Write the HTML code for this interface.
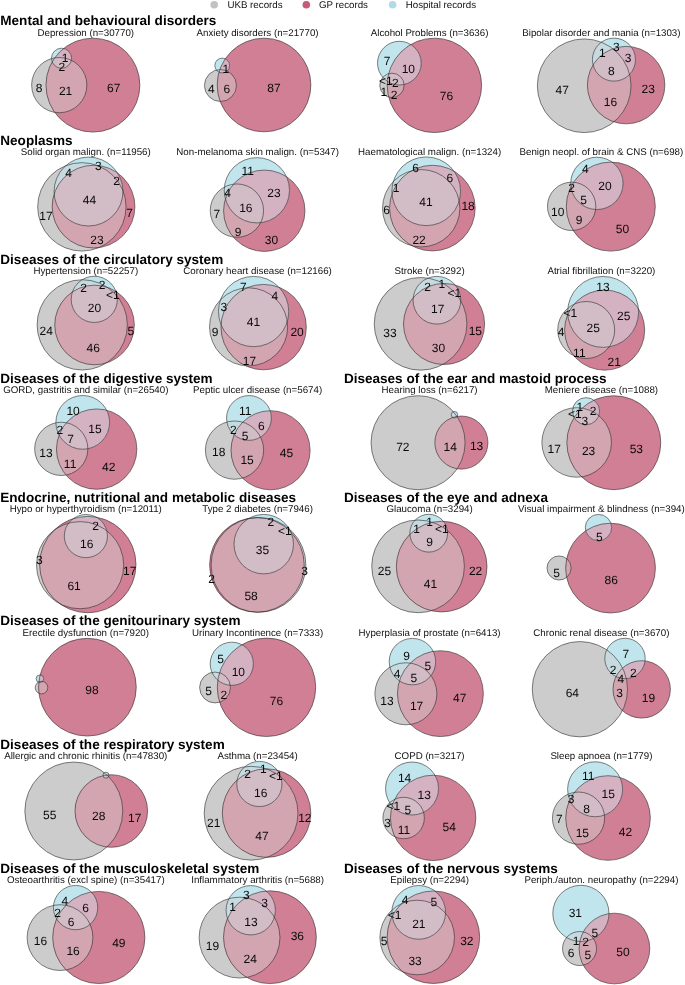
<!DOCTYPE html>
<html><head><meta charset="utf-8"><title>Venn</title>
<style>
html,body{margin:0;padding:0;background:#fff}
svg{display:block;font-family:"Liberation Sans",sans-serif;text-rendering:geometricPrecision}
.t{font-weight:bold;font-size:13.55px;fill:#000}
.s{font-size:9.74px;fill:#111;text-anchor:middle}
.l{font-size:9.74px;fill:#111}
.n{font-size:12.0px;fill:#0a0a0a;text-anchor:middle}
.o{fill:none;stroke:#2e2e2e;stroke-width:0.6}
.fG{fill:#cccccc}
.fR{fill:#d07f95}
.fB{fill:#c0e5ec}
.fGR{fill:#d3a5b0}
.fGB{fill:#c6dae0}
.fRB{fill:#d4b2c1}
.fGRB{fill:#d2bcc5}
</style></head><body>
<svg width="685" height="985" viewBox="0 0 685 985">
<rect width="685" height="985" fill="#fff"/>
<defs>
<clipPath id="cG0"><circle cx="59.26" cy="85.12" r="27.62"/></clipPath><clipPath id="cR0"><circle cx="92.91" cy="85.12" r="46.95"/></clipPath><clipPath id="cB0"><circle cx="61.52" cy="58.25" r="10.04"/></clipPath>
<clipPath id="cG1"><circle cx="220.46" cy="85.5" r="16.01"/></clipPath><clipPath id="cR1"><circle cx="264.03" cy="85" r="46.83"/></clipPath><clipPath id="cB1"><circle cx="222.22" cy="65.54" r="7.41"/></clipPath>
<clipPath id="cG2"><circle cx="391.96" cy="85.37" r="12.18"/></clipPath><clipPath id="cR2"><circle cx="434.39" cy="85.37" r="47.21"/></clipPath><clipPath id="cB2"><circle cx="399.37" cy="63.15" r="21.85"/></clipPath>
<clipPath id="cG3"><circle cx="584.19" cy="85.75" r="46.83"/></clipPath><clipPath id="cR3"><circle cx="626.12" cy="85.12" r="38.73"/></clipPath><clipPath id="cB3"><circle cx="613.94" cy="59.64" r="21.53"/></clipPath>
<clipPath id="cG4"><circle cx="81.86" cy="206.86" r="44.19"/></clipPath><clipPath id="cR4"><circle cx="93.53" cy="206.61" r="41.37"/></clipPath><clipPath id="cB4"><circle cx="88.51" cy="191.54" r="34.46"/></clipPath>
<clipPath id="cG5"><circle cx="236.91" cy="210.62" r="26.68"/></clipPath><clipPath id="cR5"><circle cx="264.28" cy="210.75" r="40.68"/></clipPath><clipPath id="cB5"><circle cx="256.87" cy="190.28" r="32.64"/></clipPath>
<clipPath id="cG6"><circle cx="421.21" cy="208.24" r="38.67"/></clipPath><clipPath id="cR6"><circle cx="432.39" cy="208.11" r="42.81"/></clipPath><clipPath id="cB6"><circle cx="426.23" cy="191.29" r="34.34"/></clipPath>
<clipPath id="cG7"><circle cx="571.63" cy="206.35" r="24.17"/></clipPath><clipPath id="cR7"><circle cx="610.8" cy="206.61" r="44.51"/></clipPath><clipPath id="cB7"><circle cx="596.87" cy="183.38" r="26.18"/></clipPath>
<clipPath id="cG8"><circle cx="82.23" cy="324.85" r="45.13"/></clipPath><clipPath id="cR8"><circle cx="94.54" cy="324.97" r="39.8"/></clipPath><clipPath id="cB8"><circle cx="94.29" cy="299.36" r="23.1"/></clipPath>
<clipPath id="cG9"><circle cx="248.58" cy="326.86" r="39.05"/></clipPath><clipPath id="cR9"><circle cx="263.65" cy="327.11" r="42.69"/></clipPath><clipPath id="cB9"><circle cx="253.61" cy="311.54" r="35.15"/></clipPath>
<clipPath id="cG10"><circle cx="420.58" cy="323.84" r="46.33"/></clipPath><clipPath id="cR10"><circle cx="444.06" cy="323.97" r="40.55"/></clipPath><clipPath id="cB10"><circle cx="436.91" cy="300.24" r="23.85"/></clipPath>
<clipPath id="cG11"><circle cx="586.19" cy="330" r="28.5"/></clipPath><clipPath id="cR11"><circle cx="604.65" cy="330.12" r="40.05"/></clipPath><clipPath id="cB11"><circle cx="603.14" cy="311.92" r="35.47"/></clipPath>
<clipPath id="cG12"><circle cx="61.27" cy="448.87" r="26.62"/></clipPath><clipPath id="cR12"><circle cx="96.67" cy="449.12" r="40.18"/></clipPath><clipPath id="cB12"><circle cx="82.74" cy="422.38" r="26.87"/></clipPath>
<clipPath id="cG13"><circle cx="234.52" cy="450.12" r="29.13"/></clipPath><clipPath id="cR13"><circle cx="270.55" cy="450.25" r="39.55"/></clipPath><clipPath id="cB13"><circle cx="248.96" cy="417.98" r="22.41"/></clipPath>
<clipPath id="cG14"><circle cx="418.07" cy="442.71" r="47.02"/></clipPath><clipPath id="cR14"><circle cx="461.39" cy="442.59" r="26.55"/></clipPath><clipPath id="cB14"><circle cx="454.48" cy="414.72" r="3.26"/></clipPath>
<clipPath id="cG15"><circle cx="576.65" cy="442.46" r="34.78"/></clipPath><clipPath id="cR15"><circle cx="613.81" cy="442.71" r="46.95"/></clipPath><clipPath id="cB15"><circle cx="586.07" cy="411.2" r="13.56"/></clipPath>
<clipPath id="cG16"><circle cx="80.1" cy="565.18" r="43.58"/></clipPath><clipPath id="cR16"><circle cx="87.81" cy="564.56" r="48.18"/></clipPath><clipPath id="cB16"><circle cx="85.88" cy="536.09" r="21.59"/></clipPath>
<clipPath id="cG17"><circle cx="258.49" cy="564.91" r="47.39"/></clipPath><clipPath id="cR17"><circle cx="256.91" cy="564.91" r="47.3"/></clipPath><clipPath id="cB17"><circle cx="263.74" cy="544.15" r="29.74"/></clipPath>
<clipPath id="cG18"><circle cx="418.07" cy="566.35" r="46.33"/></clipPath><clipPath id="cR18"><circle cx="441.68" cy="566.61" r="45.32"/></clipPath><clipPath id="cB18"><circle cx="428.74" cy="533.21" r="18.89"/></clipPath>
<clipPath id="cG19"><circle cx="559.08" cy="567.99" r="12.05"/></clipPath><clipPath id="cR19"><circle cx="610.55" cy="568.11" r="44.88"/></clipPath><clipPath id="cB19"><circle cx="598.5" cy="527.56" r="13.18"/></clipPath>
<clipPath id="cG20"><circle cx="41.5" cy="687.6" r="6.3"/></clipPath><clipPath id="cR20"><circle cx="87.4" cy="687.2" r="48.85"/></clipPath><clipPath id="cB20"><circle cx="39.95" cy="678.7" r="3.8"/></clipPath>
<clipPath id="cG21"><circle cx="215.06" cy="687.48" r="15.44"/></clipPath><clipPath id="cR21"><circle cx="266.5" cy="687.3" r="49.2"/></clipPath><clipPath id="cB21"><circle cx="231.76" cy="663.76" r="21.59"/></clipPath>
<clipPath id="cG22"><circle cx="405.89" cy="693.76" r="31.01"/></clipPath><clipPath id="cR22"><circle cx="440.42" cy="693.64" r="42.94"/></clipPath><clipPath id="cB22"><circle cx="412.42" cy="661.62" r="23.23"/></clipPath>
<clipPath id="cG23"><circle cx="579.9" cy="689.2" r="47.65"/></clipPath><clipPath id="cR23"><circle cx="641.69" cy="689.37" r="28.69"/></clipPath><clipPath id="cB23"><circle cx="624.99" cy="658.48" r="20.21"/></clipPath>
<clipPath id="cG24"><circle cx="73.8" cy="811" r="48.95"/></clipPath><clipPath id="cR24"><circle cx="111.3" cy="811" r="36.3"/></clipPath><clipPath id="cB24"><circle cx="105.96" cy="775.2" r="3.01"/></clipPath>
<clipPath id="cG25"><circle cx="251.09" cy="813.24" r="46.89"/></clipPath><clipPath id="cR25"><circle cx="266.54" cy="813.11" r="44.26"/></clipPath><clipPath id="cB25"><circle cx="259.38" cy="783.99" r="22.6"/></clipPath>
<clipPath id="cG26"><circle cx="403.64" cy="818.01" r="20.72"/></clipPath><clipPath id="cR26"><circle cx="433.14" cy="817.88" r="42.69"/></clipPath><clipPath id="cB26"><circle cx="412.05" cy="788.51" r="26.49"/></clipPath>
<clipPath id="cG27"><circle cx="578.54" cy="818.13" r="26.11"/></clipPath><clipPath id="cR27"><circle cx="608.04" cy="818.01" r="42.31"/></clipPath><clipPath id="cB27"><circle cx="595.11" cy="789.26" r="27.49"/></clipPath>
<clipPath id="cG28"><circle cx="60.01" cy="937.61" r="32.89"/></clipPath><clipPath id="cR28"><circle cx="98.81" cy="937.48" r="46.08"/></clipPath><clipPath id="cB28"><circle cx="75.58" cy="907.6" r="22.16"/></clipPath>
<clipPath id="cG29"><circle cx="239.54" cy="937.61" r="40.43"/></clipPath><clipPath id="cR29"><circle cx="269.93" cy="937.23" r="46.39"/></clipPath><clipPath id="cB29"><circle cx="250.72" cy="910.24" r="24.67"/></clipPath>
<clipPath id="cG30"><circle cx="417.19" cy="937.48" r="37.29"/></clipPath><clipPath id="cR30"><circle cx="433.39" cy="937.23" r="46.26"/></clipPath><clipPath id="cB30"><circle cx="418.7" cy="912.38" r="26.87"/></clipPath>
<clipPath id="cG31"><circle cx="579.54" cy="948.53" r="17.01"/></clipPath><clipPath id="cR31"><circle cx="614.44" cy="948.53" r="35.34"/></clipPath><clipPath id="cB31"><circle cx="580.9" cy="913.4" r="28.1"/></clipPath>
</defs>
<g>
<circle cx="59.26" cy="85.12" r="27.62" class="fG"/>
<circle cx="92.91" cy="85.12" r="46.95" class="fR"/>
<circle cx="61.52" cy="58.25" r="10.04" class="fB"/>
<circle cx="59.26" cy="85.12" r="27.62" class="fGR" clip-path="url(#cR0)"/>
<circle cx="59.26" cy="85.12" r="27.62" class="fGB" clip-path="url(#cB0)"/>
<circle cx="92.91" cy="85.12" r="46.95" class="fRB" clip-path="url(#cB0)"/>
<g clip-path="url(#cB0)"><circle cx="59.26" cy="85.12" r="27.62" class="fGRB" clip-path="url(#cR0)"/></g>
<circle cx="59.26" cy="85.12" r="27.62" class="o"/>
<circle cx="92.91" cy="85.12" r="46.95" class="o"/>
<circle cx="61.52" cy="58.25" r="10.04" class="o"/>
</g>
<g>
<circle cx="220.46" cy="85.5" r="16.01" class="fG"/>
<circle cx="264.03" cy="85" r="46.83" class="fR"/>
<circle cx="222.22" cy="65.54" r="7.41" class="fB"/>
<circle cx="220.46" cy="85.5" r="16.01" class="fGR" clip-path="url(#cR1)"/>
<circle cx="220.46" cy="85.5" r="16.01" class="fGB" clip-path="url(#cB1)"/>
<circle cx="264.03" cy="85" r="46.83" class="fRB" clip-path="url(#cB1)"/>
<g clip-path="url(#cB1)"><circle cx="220.46" cy="85.5" r="16.01" class="fGRB" clip-path="url(#cR1)"/></g>
<circle cx="220.46" cy="85.5" r="16.01" class="o"/>
<circle cx="264.03" cy="85" r="46.83" class="o"/>
<circle cx="222.22" cy="65.54" r="7.41" class="o"/>
</g>
<g>
<circle cx="391.96" cy="85.37" r="12.18" class="fG"/>
<circle cx="434.39" cy="85.37" r="47.21" class="fR"/>
<circle cx="399.37" cy="63.15" r="21.85" class="fB"/>
<circle cx="391.96" cy="85.37" r="12.18" class="fGR" clip-path="url(#cR2)"/>
<circle cx="391.96" cy="85.37" r="12.18" class="fGB" clip-path="url(#cB2)"/>
<circle cx="434.39" cy="85.37" r="47.21" class="fRB" clip-path="url(#cB2)"/>
<g clip-path="url(#cB2)"><circle cx="391.96" cy="85.37" r="12.18" class="fGRB" clip-path="url(#cR2)"/></g>
<circle cx="391.96" cy="85.37" r="12.18" class="o"/>
<circle cx="434.39" cy="85.37" r="47.21" class="o"/>
<circle cx="399.37" cy="63.15" r="21.85" class="o"/>
</g>
<g>
<circle cx="584.19" cy="85.75" r="46.83" class="fG"/>
<circle cx="626.12" cy="85.12" r="38.73" class="fR"/>
<circle cx="613.94" cy="59.64" r="21.53" class="fB"/>
<circle cx="584.19" cy="85.75" r="46.83" class="fGR" clip-path="url(#cR3)"/>
<circle cx="584.19" cy="85.75" r="46.83" class="fGB" clip-path="url(#cB3)"/>
<circle cx="626.12" cy="85.12" r="38.73" class="fRB" clip-path="url(#cB3)"/>
<g clip-path="url(#cB3)"><circle cx="584.19" cy="85.75" r="46.83" class="fGRB" clip-path="url(#cR3)"/></g>
<circle cx="584.19" cy="85.75" r="46.83" class="o"/>
<circle cx="626.12" cy="85.12" r="38.73" class="o"/>
<circle cx="613.94" cy="59.64" r="21.53" class="o"/>
</g>
<g>
<circle cx="81.86" cy="206.86" r="44.19" class="fG"/>
<circle cx="93.53" cy="206.61" r="41.37" class="fR"/>
<circle cx="88.51" cy="191.54" r="34.46" class="fB"/>
<circle cx="81.86" cy="206.86" r="44.19" class="fGR" clip-path="url(#cR4)"/>
<circle cx="81.86" cy="206.86" r="44.19" class="fGB" clip-path="url(#cB4)"/>
<circle cx="93.53" cy="206.61" r="41.37" class="fRB" clip-path="url(#cB4)"/>
<g clip-path="url(#cB4)"><circle cx="81.86" cy="206.86" r="44.19" class="fGRB" clip-path="url(#cR4)"/></g>
<circle cx="81.86" cy="206.86" r="44.19" class="o"/>
<circle cx="93.53" cy="206.61" r="41.37" class="o"/>
<circle cx="88.51" cy="191.54" r="34.46" class="o"/>
</g>
<g>
<circle cx="236.91" cy="210.62" r="26.68" class="fG"/>
<circle cx="264.28" cy="210.75" r="40.68" class="fR"/>
<circle cx="256.87" cy="190.28" r="32.64" class="fB"/>
<circle cx="236.91" cy="210.62" r="26.68" class="fGR" clip-path="url(#cR5)"/>
<circle cx="236.91" cy="210.62" r="26.68" class="fGB" clip-path="url(#cB5)"/>
<circle cx="264.28" cy="210.75" r="40.68" class="fRB" clip-path="url(#cB5)"/>
<g clip-path="url(#cB5)"><circle cx="236.91" cy="210.62" r="26.68" class="fGRB" clip-path="url(#cR5)"/></g>
<circle cx="236.91" cy="210.62" r="26.68" class="o"/>
<circle cx="264.28" cy="210.75" r="40.68" class="o"/>
<circle cx="256.87" cy="190.28" r="32.64" class="o"/>
</g>
<g>
<circle cx="421.21" cy="208.24" r="38.67" class="fG"/>
<circle cx="432.39" cy="208.11" r="42.81" class="fR"/>
<circle cx="426.23" cy="191.29" r="34.34" class="fB"/>
<circle cx="421.21" cy="208.24" r="38.67" class="fGR" clip-path="url(#cR6)"/>
<circle cx="421.21" cy="208.24" r="38.67" class="fGB" clip-path="url(#cB6)"/>
<circle cx="432.39" cy="208.11" r="42.81" class="fRB" clip-path="url(#cB6)"/>
<g clip-path="url(#cB6)"><circle cx="421.21" cy="208.24" r="38.67" class="fGRB" clip-path="url(#cR6)"/></g>
<circle cx="421.21" cy="208.24" r="38.67" class="o"/>
<circle cx="432.39" cy="208.11" r="42.81" class="o"/>
<circle cx="426.23" cy="191.29" r="34.34" class="o"/>
</g>
<g>
<circle cx="571.63" cy="206.35" r="24.17" class="fG"/>
<circle cx="610.8" cy="206.61" r="44.51" class="fR"/>
<circle cx="596.87" cy="183.38" r="26.18" class="fB"/>
<circle cx="571.63" cy="206.35" r="24.17" class="fGR" clip-path="url(#cR7)"/>
<circle cx="571.63" cy="206.35" r="24.17" class="fGB" clip-path="url(#cB7)"/>
<circle cx="610.8" cy="206.61" r="44.51" class="fRB" clip-path="url(#cB7)"/>
<g clip-path="url(#cB7)"><circle cx="571.63" cy="206.35" r="24.17" class="fGRB" clip-path="url(#cR7)"/></g>
<circle cx="571.63" cy="206.35" r="24.17" class="o"/>
<circle cx="610.8" cy="206.61" r="44.51" class="o"/>
<circle cx="596.87" cy="183.38" r="26.18" class="o"/>
</g>
<g>
<circle cx="82.23" cy="324.85" r="45.13" class="fG"/>
<circle cx="94.54" cy="324.97" r="39.8" class="fR"/>
<circle cx="94.29" cy="299.36" r="23.1" class="fB"/>
<circle cx="82.23" cy="324.85" r="45.13" class="fGR" clip-path="url(#cR8)"/>
<circle cx="82.23" cy="324.85" r="45.13" class="fGB" clip-path="url(#cB8)"/>
<circle cx="94.54" cy="324.97" r="39.8" class="fRB" clip-path="url(#cB8)"/>
<g clip-path="url(#cB8)"><circle cx="82.23" cy="324.85" r="45.13" class="fGRB" clip-path="url(#cR8)"/></g>
<circle cx="82.23" cy="324.85" r="45.13" class="o"/>
<circle cx="94.54" cy="324.97" r="39.8" class="o"/>
<circle cx="94.29" cy="299.36" r="23.1" class="o"/>
</g>
<g>
<circle cx="248.58" cy="326.86" r="39.05" class="fG"/>
<circle cx="263.65" cy="327.11" r="42.69" class="fR"/>
<circle cx="253.61" cy="311.54" r="35.15" class="fB"/>
<circle cx="248.58" cy="326.86" r="39.05" class="fGR" clip-path="url(#cR9)"/>
<circle cx="248.58" cy="326.86" r="39.05" class="fGB" clip-path="url(#cB9)"/>
<circle cx="263.65" cy="327.11" r="42.69" class="fRB" clip-path="url(#cB9)"/>
<g clip-path="url(#cB9)"><circle cx="248.58" cy="326.86" r="39.05" class="fGRB" clip-path="url(#cR9)"/></g>
<circle cx="248.58" cy="326.86" r="39.05" class="o"/>
<circle cx="263.65" cy="327.11" r="42.69" class="o"/>
<circle cx="253.61" cy="311.54" r="35.15" class="o"/>
</g>
<g>
<circle cx="420.58" cy="323.84" r="46.33" class="fG"/>
<circle cx="444.06" cy="323.97" r="40.55" class="fR"/>
<circle cx="436.91" cy="300.24" r="23.85" class="fB"/>
<circle cx="420.58" cy="323.84" r="46.33" class="fGR" clip-path="url(#cR10)"/>
<circle cx="420.58" cy="323.84" r="46.33" class="fGB" clip-path="url(#cB10)"/>
<circle cx="444.06" cy="323.97" r="40.55" class="fRB" clip-path="url(#cB10)"/>
<g clip-path="url(#cB10)"><circle cx="420.58" cy="323.84" r="46.33" class="fGRB" clip-path="url(#cR10)"/></g>
<circle cx="420.58" cy="323.84" r="46.33" class="o"/>
<circle cx="444.06" cy="323.97" r="40.55" class="o"/>
<circle cx="436.91" cy="300.24" r="23.85" class="o"/>
</g>
<g>
<circle cx="586.19" cy="330" r="28.5" class="fG"/>
<circle cx="604.65" cy="330.12" r="40.05" class="fR"/>
<circle cx="603.14" cy="311.92" r="35.47" class="fB"/>
<circle cx="586.19" cy="330" r="28.5" class="fGR" clip-path="url(#cR11)"/>
<circle cx="586.19" cy="330" r="28.5" class="fGB" clip-path="url(#cB11)"/>
<circle cx="604.65" cy="330.12" r="40.05" class="fRB" clip-path="url(#cB11)"/>
<g clip-path="url(#cB11)"><circle cx="586.19" cy="330" r="28.5" class="fGRB" clip-path="url(#cR11)"/></g>
<circle cx="586.19" cy="330" r="28.5" class="o"/>
<circle cx="604.65" cy="330.12" r="40.05" class="o"/>
<circle cx="603.14" cy="311.92" r="35.47" class="o"/>
</g>
<g>
<circle cx="61.27" cy="448.87" r="26.62" class="fG"/>
<circle cx="96.67" cy="449.12" r="40.18" class="fR"/>
<circle cx="82.74" cy="422.38" r="26.87" class="fB"/>
<circle cx="61.27" cy="448.87" r="26.62" class="fGR" clip-path="url(#cR12)"/>
<circle cx="61.27" cy="448.87" r="26.62" class="fGB" clip-path="url(#cB12)"/>
<circle cx="96.67" cy="449.12" r="40.18" class="fRB" clip-path="url(#cB12)"/>
<g clip-path="url(#cB12)"><circle cx="61.27" cy="448.87" r="26.62" class="fGRB" clip-path="url(#cR12)"/></g>
<circle cx="61.27" cy="448.87" r="26.62" class="o"/>
<circle cx="96.67" cy="449.12" r="40.18" class="o"/>
<circle cx="82.74" cy="422.38" r="26.87" class="o"/>
</g>
<g>
<circle cx="234.52" cy="450.12" r="29.13" class="fG"/>
<circle cx="270.55" cy="450.25" r="39.55" class="fR"/>
<circle cx="248.96" cy="417.98" r="22.41" class="fB"/>
<circle cx="234.52" cy="450.12" r="29.13" class="fGR" clip-path="url(#cR13)"/>
<circle cx="234.52" cy="450.12" r="29.13" class="fGB" clip-path="url(#cB13)"/>
<circle cx="270.55" cy="450.25" r="39.55" class="fRB" clip-path="url(#cB13)"/>
<g clip-path="url(#cB13)"><circle cx="234.52" cy="450.12" r="29.13" class="fGRB" clip-path="url(#cR13)"/></g>
<circle cx="234.52" cy="450.12" r="29.13" class="o"/>
<circle cx="270.55" cy="450.25" r="39.55" class="o"/>
<circle cx="248.96" cy="417.98" r="22.41" class="o"/>
</g>
<g>
<circle cx="418.07" cy="442.71" r="47.02" class="fG"/>
<circle cx="461.39" cy="442.59" r="26.55" class="fR"/>
<circle cx="454.48" cy="414.72" r="3.26" class="fB"/>
<circle cx="418.07" cy="442.71" r="47.02" class="fGR" clip-path="url(#cR14)"/>
<circle cx="418.07" cy="442.71" r="47.02" class="fGB" clip-path="url(#cB14)"/>
<circle cx="461.39" cy="442.59" r="26.55" class="fRB" clip-path="url(#cB14)"/>
<g clip-path="url(#cB14)"><circle cx="418.07" cy="442.71" r="47.02" class="fGRB" clip-path="url(#cR14)"/></g>
<circle cx="418.07" cy="442.71" r="47.02" class="o"/>
<circle cx="461.39" cy="442.59" r="26.55" class="o"/>
<circle cx="454.48" cy="414.72" r="3.26" class="o"/>
</g>
<g>
<circle cx="576.65" cy="442.46" r="34.78" class="fG"/>
<circle cx="613.81" cy="442.71" r="46.95" class="fR"/>
<circle cx="586.07" cy="411.2" r="13.56" class="fB"/>
<circle cx="576.65" cy="442.46" r="34.78" class="fGR" clip-path="url(#cR15)"/>
<circle cx="576.65" cy="442.46" r="34.78" class="fGB" clip-path="url(#cB15)"/>
<circle cx="613.81" cy="442.71" r="46.95" class="fRB" clip-path="url(#cB15)"/>
<g clip-path="url(#cB15)"><circle cx="576.65" cy="442.46" r="34.78" class="fGRB" clip-path="url(#cR15)"/></g>
<circle cx="576.65" cy="442.46" r="34.78" class="o"/>
<circle cx="613.81" cy="442.71" r="46.95" class="o"/>
<circle cx="586.07" cy="411.2" r="13.56" class="o"/>
</g>
<g>
<circle cx="80.1" cy="565.18" r="43.58" class="fG"/>
<circle cx="87.81" cy="564.56" r="48.18" class="fR"/>
<circle cx="85.88" cy="536.09" r="21.59" class="fB"/>
<circle cx="80.1" cy="565.18" r="43.58" class="fGR" clip-path="url(#cR16)"/>
<circle cx="80.1" cy="565.18" r="43.58" class="fGB" clip-path="url(#cB16)"/>
<circle cx="87.81" cy="564.56" r="48.18" class="fRB" clip-path="url(#cB16)"/>
<g clip-path="url(#cB16)"><circle cx="80.1" cy="565.18" r="43.58" class="fGRB" clip-path="url(#cR16)"/></g>
<circle cx="80.1" cy="565.18" r="43.58" class="o"/>
<circle cx="87.81" cy="564.56" r="48.18" class="o"/>
<circle cx="85.88" cy="536.09" r="21.59" class="o"/>
</g>
<g>
<circle cx="258.49" cy="564.91" r="47.39" class="fG"/>
<circle cx="256.91" cy="564.91" r="47.3" class="fR"/>
<circle cx="263.74" cy="544.15" r="29.74" class="fB"/>
<circle cx="258.49" cy="564.91" r="47.39" class="fGR" clip-path="url(#cR17)"/>
<circle cx="258.49" cy="564.91" r="47.39" class="fGB" clip-path="url(#cB17)"/>
<circle cx="256.91" cy="564.91" r="47.3" class="fRB" clip-path="url(#cB17)"/>
<g clip-path="url(#cB17)"><circle cx="258.49" cy="564.91" r="47.39" class="fGRB" clip-path="url(#cR17)"/></g>
<circle cx="258.49" cy="564.91" r="47.39" class="o"/>
<circle cx="256.91" cy="564.91" r="47.3" class="o"/>
<circle cx="263.74" cy="544.15" r="29.74" class="o"/>
</g>
<g>
<circle cx="418.07" cy="566.35" r="46.33" class="fG"/>
<circle cx="441.68" cy="566.61" r="45.32" class="fR"/>
<circle cx="428.74" cy="533.21" r="18.89" class="fB"/>
<circle cx="418.07" cy="566.35" r="46.33" class="fGR" clip-path="url(#cR18)"/>
<circle cx="418.07" cy="566.35" r="46.33" class="fGB" clip-path="url(#cB18)"/>
<circle cx="441.68" cy="566.61" r="45.32" class="fRB" clip-path="url(#cB18)"/>
<g clip-path="url(#cB18)"><circle cx="418.07" cy="566.35" r="46.33" class="fGRB" clip-path="url(#cR18)"/></g>
<circle cx="418.07" cy="566.35" r="46.33" class="o"/>
<circle cx="441.68" cy="566.61" r="45.32" class="o"/>
<circle cx="428.74" cy="533.21" r="18.89" class="o"/>
</g>
<g>
<circle cx="559.08" cy="567.99" r="12.05" class="fG"/>
<circle cx="610.55" cy="568.11" r="44.88" class="fR"/>
<circle cx="598.5" cy="527.56" r="13.18" class="fB"/>
<circle cx="559.08" cy="567.99" r="12.05" class="fGR" clip-path="url(#cR19)"/>
<circle cx="559.08" cy="567.99" r="12.05" class="fGB" clip-path="url(#cB19)"/>
<circle cx="610.55" cy="568.11" r="44.88" class="fRB" clip-path="url(#cB19)"/>
<g clip-path="url(#cB19)"><circle cx="559.08" cy="567.99" r="12.05" class="fGRB" clip-path="url(#cR19)"/></g>
<circle cx="559.08" cy="567.99" r="12.05" class="o"/>
<circle cx="610.55" cy="568.11" r="44.88" class="o"/>
<circle cx="598.5" cy="527.56" r="13.18" class="o"/>
</g>
<g>
<circle cx="41.5" cy="687.6" r="6.3" class="fG"/>
<circle cx="87.4" cy="687.2" r="48.85" class="fR"/>
<circle cx="39.95" cy="678.7" r="3.8" class="fB"/>
<circle cx="41.5" cy="687.6" r="6.3" class="fGR" clip-path="url(#cR20)"/>
<circle cx="41.5" cy="687.6" r="6.3" class="fGB" clip-path="url(#cB20)"/>
<circle cx="87.4" cy="687.2" r="48.85" class="fRB" clip-path="url(#cB20)"/>
<g clip-path="url(#cB20)"><circle cx="41.5" cy="687.6" r="6.3" class="fGRB" clip-path="url(#cR20)"/></g>
<circle cx="41.5" cy="687.6" r="6.3" class="o"/>
<circle cx="87.4" cy="687.2" r="48.85" class="o"/>
<circle cx="39.95" cy="678.7" r="3.8" class="o"/>
</g>
<g>
<circle cx="215.06" cy="687.48" r="15.44" class="fG"/>
<circle cx="266.5" cy="687.3" r="49.2" class="fR"/>
<circle cx="231.76" cy="663.76" r="21.59" class="fB"/>
<circle cx="215.06" cy="687.48" r="15.44" class="fGR" clip-path="url(#cR21)"/>
<circle cx="215.06" cy="687.48" r="15.44" class="fGB" clip-path="url(#cB21)"/>
<circle cx="266.5" cy="687.3" r="49.2" class="fRB" clip-path="url(#cB21)"/>
<g clip-path="url(#cB21)"><circle cx="215.06" cy="687.48" r="15.44" class="fGRB" clip-path="url(#cR21)"/></g>
<circle cx="215.06" cy="687.48" r="15.44" class="o"/>
<circle cx="266.5" cy="687.3" r="49.2" class="o"/>
<circle cx="231.76" cy="663.76" r="21.59" class="o"/>
</g>
<g>
<circle cx="405.89" cy="693.76" r="31.01" class="fG"/>
<circle cx="440.42" cy="693.64" r="42.94" class="fR"/>
<circle cx="412.42" cy="661.62" r="23.23" class="fB"/>
<circle cx="405.89" cy="693.76" r="31.01" class="fGR" clip-path="url(#cR22)"/>
<circle cx="405.89" cy="693.76" r="31.01" class="fGB" clip-path="url(#cB22)"/>
<circle cx="440.42" cy="693.64" r="42.94" class="fRB" clip-path="url(#cB22)"/>
<g clip-path="url(#cB22)"><circle cx="405.89" cy="693.76" r="31.01" class="fGRB" clip-path="url(#cR22)"/></g>
<circle cx="405.89" cy="693.76" r="31.01" class="o"/>
<circle cx="440.42" cy="693.64" r="42.94" class="o"/>
<circle cx="412.42" cy="661.62" r="23.23" class="o"/>
</g>
<g>
<circle cx="579.9" cy="689.2" r="47.65" class="fG"/>
<circle cx="641.69" cy="689.37" r="28.69" class="fR"/>
<circle cx="624.99" cy="658.48" r="20.21" class="fB"/>
<circle cx="579.9" cy="689.2" r="47.65" class="fGR" clip-path="url(#cR23)"/>
<circle cx="579.9" cy="689.2" r="47.65" class="fGB" clip-path="url(#cB23)"/>
<circle cx="641.69" cy="689.37" r="28.69" class="fRB" clip-path="url(#cB23)"/>
<g clip-path="url(#cB23)"><circle cx="579.9" cy="689.2" r="47.65" class="fGRB" clip-path="url(#cR23)"/></g>
<circle cx="579.9" cy="689.2" r="47.65" class="o"/>
<circle cx="641.69" cy="689.37" r="28.69" class="o"/>
<circle cx="624.99" cy="658.48" r="20.21" class="o"/>
</g>
<g>
<circle cx="73.8" cy="811" r="48.95" class="fG"/>
<circle cx="111.3" cy="811" r="36.3" class="fR"/>
<circle cx="105.96" cy="775.2" r="3.01" class="fB"/>
<circle cx="73.8" cy="811" r="48.95" class="fGR" clip-path="url(#cR24)"/>
<circle cx="73.8" cy="811" r="48.95" class="fGB" clip-path="url(#cB24)"/>
<circle cx="111.3" cy="811" r="36.3" class="fRB" clip-path="url(#cB24)"/>
<g clip-path="url(#cB24)"><circle cx="73.8" cy="811" r="48.95" class="fGRB" clip-path="url(#cR24)"/></g>
<circle cx="73.8" cy="811" r="48.95" class="o"/>
<circle cx="111.3" cy="811" r="36.3" class="o"/>
<circle cx="105.96" cy="775.2" r="3.01" class="o"/>
</g>
<g>
<circle cx="251.09" cy="813.24" r="46.89" class="fG"/>
<circle cx="266.54" cy="813.11" r="44.26" class="fR"/>
<circle cx="259.38" cy="783.99" r="22.6" class="fB"/>
<circle cx="251.09" cy="813.24" r="46.89" class="fGR" clip-path="url(#cR25)"/>
<circle cx="251.09" cy="813.24" r="46.89" class="fGB" clip-path="url(#cB25)"/>
<circle cx="266.54" cy="813.11" r="44.26" class="fRB" clip-path="url(#cB25)"/>
<g clip-path="url(#cB25)"><circle cx="251.09" cy="813.24" r="46.89" class="fGRB" clip-path="url(#cR25)"/></g>
<circle cx="251.09" cy="813.24" r="46.89" class="o"/>
<circle cx="266.54" cy="813.11" r="44.26" class="o"/>
<circle cx="259.38" cy="783.99" r="22.6" class="o"/>
</g>
<g>
<circle cx="403.64" cy="818.01" r="20.72" class="fG"/>
<circle cx="433.14" cy="817.88" r="42.69" class="fR"/>
<circle cx="412.05" cy="788.51" r="26.49" class="fB"/>
<circle cx="403.64" cy="818.01" r="20.72" class="fGR" clip-path="url(#cR26)"/>
<circle cx="403.64" cy="818.01" r="20.72" class="fGB" clip-path="url(#cB26)"/>
<circle cx="433.14" cy="817.88" r="42.69" class="fRB" clip-path="url(#cB26)"/>
<g clip-path="url(#cB26)"><circle cx="403.64" cy="818.01" r="20.72" class="fGRB" clip-path="url(#cR26)"/></g>
<circle cx="403.64" cy="818.01" r="20.72" class="o"/>
<circle cx="433.14" cy="817.88" r="42.69" class="o"/>
<circle cx="412.05" cy="788.51" r="26.49" class="o"/>
</g>
<g>
<circle cx="578.54" cy="818.13" r="26.11" class="fG"/>
<circle cx="608.04" cy="818.01" r="42.31" class="fR"/>
<circle cx="595.11" cy="789.26" r="27.49" class="fB"/>
<circle cx="578.54" cy="818.13" r="26.11" class="fGR" clip-path="url(#cR27)"/>
<circle cx="578.54" cy="818.13" r="26.11" class="fGB" clip-path="url(#cB27)"/>
<circle cx="608.04" cy="818.01" r="42.31" class="fRB" clip-path="url(#cB27)"/>
<g clip-path="url(#cB27)"><circle cx="578.54" cy="818.13" r="26.11" class="fGRB" clip-path="url(#cR27)"/></g>
<circle cx="578.54" cy="818.13" r="26.11" class="o"/>
<circle cx="608.04" cy="818.01" r="42.31" class="o"/>
<circle cx="595.11" cy="789.26" r="27.49" class="o"/>
</g>
<g>
<circle cx="60.01" cy="937.61" r="32.89" class="fG"/>
<circle cx="98.81" cy="937.48" r="46.08" class="fR"/>
<circle cx="75.58" cy="907.6" r="22.16" class="fB"/>
<circle cx="60.01" cy="937.61" r="32.89" class="fGR" clip-path="url(#cR28)"/>
<circle cx="60.01" cy="937.61" r="32.89" class="fGB" clip-path="url(#cB28)"/>
<circle cx="98.81" cy="937.48" r="46.08" class="fRB" clip-path="url(#cB28)"/>
<g clip-path="url(#cB28)"><circle cx="60.01" cy="937.61" r="32.89" class="fGRB" clip-path="url(#cR28)"/></g>
<circle cx="60.01" cy="937.61" r="32.89" class="o"/>
<circle cx="98.81" cy="937.48" r="46.08" class="o"/>
<circle cx="75.58" cy="907.6" r="22.16" class="o"/>
</g>
<g>
<circle cx="239.54" cy="937.61" r="40.43" class="fG"/>
<circle cx="269.93" cy="937.23" r="46.39" class="fR"/>
<circle cx="250.72" cy="910.24" r="24.67" class="fB"/>
<circle cx="239.54" cy="937.61" r="40.43" class="fGR" clip-path="url(#cR29)"/>
<circle cx="239.54" cy="937.61" r="40.43" class="fGB" clip-path="url(#cB29)"/>
<circle cx="269.93" cy="937.23" r="46.39" class="fRB" clip-path="url(#cB29)"/>
<g clip-path="url(#cB29)"><circle cx="239.54" cy="937.61" r="40.43" class="fGRB" clip-path="url(#cR29)"/></g>
<circle cx="239.54" cy="937.61" r="40.43" class="o"/>
<circle cx="269.93" cy="937.23" r="46.39" class="o"/>
<circle cx="250.72" cy="910.24" r="24.67" class="o"/>
</g>
<g>
<circle cx="417.19" cy="937.48" r="37.29" class="fG"/>
<circle cx="433.39" cy="937.23" r="46.26" class="fR"/>
<circle cx="418.7" cy="912.38" r="26.87" class="fB"/>
<circle cx="417.19" cy="937.48" r="37.29" class="fGR" clip-path="url(#cR30)"/>
<circle cx="417.19" cy="937.48" r="37.29" class="fGB" clip-path="url(#cB30)"/>
<circle cx="433.39" cy="937.23" r="46.26" class="fRB" clip-path="url(#cB30)"/>
<g clip-path="url(#cB30)"><circle cx="417.19" cy="937.48" r="37.29" class="fGRB" clip-path="url(#cR30)"/></g>
<circle cx="417.19" cy="937.48" r="37.29" class="o"/>
<circle cx="433.39" cy="937.23" r="46.26" class="o"/>
<circle cx="418.7" cy="912.38" r="26.87" class="o"/>
</g>
<g>
<circle cx="579.54" cy="948.53" r="17.01" class="fG"/>
<circle cx="614.44" cy="948.53" r="35.34" class="fR"/>
<circle cx="580.9" cy="913.4" r="28.1" class="fB"/>
<circle cx="579.54" cy="948.53" r="17.01" class="fGR" clip-path="url(#cR31)"/>
<circle cx="579.54" cy="948.53" r="17.01" class="fGB" clip-path="url(#cB31)"/>
<circle cx="614.44" cy="948.53" r="35.34" class="fRB" clip-path="url(#cB31)"/>
<g clip-path="url(#cB31)"><circle cx="579.54" cy="948.53" r="17.01" class="fGRB" clip-path="url(#cR31)"/></g>
<circle cx="579.54" cy="948.53" r="17.01" class="o"/>
<circle cx="614.44" cy="948.53" r="35.34" class="o"/>
<circle cx="580.9" cy="913.4" r="28.1" class="o"/>
</g>
<g style="will-change:transform">
<text class="n" x="65.08" y="62.05">1</text>
<text class="n" x="61.82" y="71.09">2</text>
<text class="n" x="38.97" y="92.43">8</text>
<text class="n" x="65.58" y="95.45">21</text>
<text class="n" x="113.79" y="92.18">67</text>
<text class="n" x="225.78" y="72.85">1</text>
<text class="n" x="211.22" y="92.93">4</text>
<text class="n" x="226.79" y="93.44">6</text>
<text class="n" x="273.99" y="91.68">87</text>
<text class="n" x="386.99" y="65.31">7</text>
<text class="n" x="408.33" y="72.85">10</text>
<text class="n" x="385.73" y="85.4">&lt;1</text>
<text class="n" x="395.27" y="87.41">2</text>
<text class="n" x="383.72" y="95.95">1</text>
<text class="n" x="394.02" y="98.71">2</text>
<text class="n" x="446.5" y="99.97">76</text>
<text class="n" x="602.44" y="57.03">1</text>
<text class="n" x="616.25" y="51">3</text>
<text class="n" x="628.05" y="62.3">3</text>
<text class="n" x="611.23" y="74.86">8</text>
<text class="n" x="562.26" y="93.69">47</text>
<text class="n" x="610.47" y="105.99">16</text>
<text class="n" x="648.14" y="92.93">23</text>
<text class="n" x="68.6" y="177.01">4</text>
<text class="n" x="98.23" y="170.23">3</text>
<text class="n" x="116.56" y="184.54">2</text>
<text class="n" x="89.44" y="204.12">44</text>
<text class="n" x="46" y="219.94">17</text>
<text class="n" x="129.61" y="217.18">7</text>
<text class="n" x="96.97" y="244.3">23</text>
<text class="n" x="247.63" y="174.5">11</text>
<text class="n" x="273.99" y="196.59">23</text>
<text class="n" x="227.54" y="197.09">4</text>
<text class="n" x="245.87" y="211.66">16</text>
<text class="n" x="216.74" y="217.93">7</text>
<text class="n" x="238.09" y="235.51">9</text>
<text class="n" x="271.48" y="243.55">30</text>
<text class="n" x="415.61" y="172.24">6</text>
<text class="n" x="449.76" y="182.28">6</text>
<text class="n" x="396.03" y="191.57">1</text>
<text class="n" x="425.91" y="205.88">41</text>
<text class="n" x="386.48" y="214.17">6</text>
<text class="n" x="468.09" y="210.4">18</text>
<text class="n" x="419.13" y="243.8">22</text>
<text class="n" x="585.36" y="173.49">4</text>
<text class="n" x="604.95" y="190.31">20</text>
<text class="n" x="571.55" y="191.57">2</text>
<text class="n" x="583.61" y="203.62">5</text>
<text class="n" x="557.74" y="216.18">10</text>
<text class="n" x="579.09" y="224.21">9</text>
<text class="n" x="622.53" y="232.5">50</text>
<text class="n" x="83.66" y="291.98">2</text>
<text class="n" x="101.99" y="288.97">2</text>
<text class="n" x="112.79" y="298.51">&lt;1</text>
<text class="n" x="94.46" y="312.07">20</text>
<text class="n" x="46.25" y="334.67">24</text>
<text class="n" x="130.87" y="334.67">5</text>
<text class="n" x="93.21" y="351.74">46</text>
<text class="n" x="243.36" y="291.48">7</text>
<text class="n" x="274.75" y="300.27">4</text>
<text class="n" x="223.77" y="310.82">3</text>
<text class="n" x="253.4" y="325.88">41</text>
<text class="n" x="214.99" y="335.93">9</text>
<text class="n" x="297.09" y="336.18">20</text>
<text class="n" x="249.39" y="364.8">17</text>
<text class="n" x="427.66" y="290.98">2</text>
<text class="n" x="441.72" y="287.72">1</text>
<text class="n" x="454.28" y="296.5">&lt;1</text>
<text class="n" x="437.71" y="312.83">17</text>
<text class="n" x="390" y="337.43">33</text>
<text class="n" x="475.37" y="334.92">15</text>
<text class="n" x="438.46" y="351.74">30</text>
<text class="n" x="602.94" y="291.48">13</text>
<text class="n" x="570.3" y="316.59">&lt;1</text>
<text class="n" x="623.78" y="319.86">25</text>
<text class="n" x="593.15" y="332.41">25</text>
<text class="n" x="561.01" y="336.18">4</text>
<text class="n" x="579.34" y="356.77">11</text>
<text class="n" x="614.24" y="365.56">21</text>
<text class="n" x="73.12" y="414.75">10</text>
<text class="n" x="94.96" y="433.33">15</text>
<text class="n" x="59.81" y="434.08">2</text>
<text class="n" x="70.61" y="442.87">7</text>
<text class="n" x="46" y="457.43">13</text>
<text class="n" x="70.1" y="468.48">11</text>
<text class="n" x="108.77" y="471.24">42</text>
<text class="n" x="245.12" y="415.25">11</text>
<text class="n" x="261.44" y="429.81">6</text>
<text class="n" x="233.32" y="434.08">2</text>
<text class="n" x="245.12" y="439.86">5</text>
<text class="n" x="218.75" y="455.93">18</text>
<text class="n" x="247.13" y="463.71">15</text>
<text class="n" x="286.55" y="457.43">45</text>
<text class="n" x="402.81" y="450.9">72</text>
<text class="n" x="450.26" y="450.9">14</text>
<text class="n" x="476.63" y="449.9">13</text>
<text class="n" x="579.84" y="411.48">1</text>
<text class="n" x="593.15" y="414.5">2</text>
<text class="n" x="574.82" y="418.26">&lt;1</text>
<text class="n" x="584.86" y="424.79">3</text>
<text class="n" x="554.23" y="452.91">17</text>
<text class="n" x="588.63" y="454.67">23</text>
<text class="n" x="636.34" y="453.41">53</text>
<text class="n" x="95.64" y="529.82">2</text>
<text class="n" x="86.71" y="547.86">16</text>
<text class="n" x="39.41" y="563.63">3</text>
<text class="n" x="129.8" y="574.84">17</text>
<text class="n" x="74.1" y="589.91">61</text>
<text class="n" x="270.88" y="526.31">2</text>
<text class="n" x="284.89" y="535.42">&lt;1</text>
<text class="n" x="262.47" y="553.99">35</text>
<text class="n" x="304.69" y="575.01">3</text>
<text class="n" x="211.66" y="583.25">2</text>
<text class="n" x="251.08" y="599.54">58</text>
<text class="n" x="429.67" y="526.46">1</text>
<text class="n" x="416.62" y="533.49">1</text>
<text class="n" x="441.72" y="532.74">&lt;1</text>
<text class="n" x="429.67" y="546.05">9</text>
<text class="n" x="384.48" y="575.42">25</text>
<text class="n" x="475.62" y="574.92">22</text>
<text class="n" x="430.43" y="587.98">41</text>
<text class="n" x="599.43" y="540.77">5</text>
<text class="n" x="556.49" y="576.68">5</text>
<text class="n" x="611.23" y="584.21">86</text>
<text class="n" x="91.95" y="694.17">98</text>
<text class="n" x="220.51" y="663.28">5</text>
<text class="n" x="238.34" y="676.09">10</text>
<text class="n" x="208.71" y="694.92">5</text>
<text class="n" x="223.77" y="698.69">2</text>
<text class="n" x="276.5" y="705.47">76</text>
<text class="n" x="406.57" y="659.77">9</text>
<text class="n" x="427.91" y="669.81">5</text>
<text class="n" x="397.03" y="678.35">4</text>
<text class="n" x="413.85" y="682.37">5</text>
<text class="n" x="386.99" y="704.97">13</text>
<text class="n" x="416.62" y="709.74">17</text>
<text class="n" x="459.8" y="701.7">47</text>
<text class="n" x="625.79" y="658.26">7</text>
<text class="n" x="612.98" y="673.58">2</text>
<text class="n" x="633.32" y="676.59">2</text>
<text class="n" x="620.77" y="682.87">4</text>
<text class="n" x="619.51" y="696.68">3</text>
<text class="n" x="572.31" y="697.43">64</text>
<text class="n" x="648.39" y="701.7">19</text>
<text class="n" x="49.77" y="818.67">55</text>
<text class="n" x="98.73" y="819.67">28</text>
<text class="n" x="134.64" y="822.43">17</text>
<text class="n" x="247.63" y="778.49">2</text>
<text class="n" x="263.45" y="772.72">1</text>
<text class="n" x="275.75" y="779.5">&lt;1</text>
<text class="n" x="260.69" y="796.57">16</text>
<text class="n" x="213.73" y="826.7">21</text>
<text class="n" x="304.88" y="821.68">12</text>
<text class="n" x="261.94" y="839.76">47</text>
<text class="n" x="404.56" y="782.26">14</text>
<text class="n" x="424.15" y="799.08">13</text>
<text class="n" x="393.26" y="810.38">&lt;1</text>
<text class="n" x="407.83" y="814.15">5</text>
<text class="n" x="387.49" y="826.7">3</text>
<text class="n" x="404.06" y="833.73">11</text>
<text class="n" x="449.26" y="830.97">54</text>
<text class="n" x="588.13" y="780.25">11</text>
<text class="n" x="608.21" y="798.33">15</text>
<text class="n" x="571.05" y="803.35">3</text>
<text class="n" x="586.62" y="812.89">8</text>
<text class="n" x="559.25" y="823.44">7</text>
<text class="n" x="582.35" y="836.74">15</text>
<text class="n" x="625.54" y="835.99">42</text>
<text class="n" x="64.83" y="904.75">4</text>
<text class="n" x="85.67" y="911.53">6</text>
<text class="n" x="57.55" y="917.3">2</text>
<text class="n" x="71.11" y="926.09">6</text>
<text class="n" x="40.48" y="945.42">16</text>
<text class="n" x="73.12" y="954.97">16</text>
<text class="n" x="118.82" y="946.68">49</text>
<text class="n" x="246.37" y="899.47">3</text>
<text class="n" x="264.7" y="906.5">3</text>
<text class="n" x="232.56" y="910.77">1</text>
<text class="n" x="250.89" y="925.84">13</text>
<text class="n" x="212.48" y="949.94">19</text>
<text class="n" x="297.35" y="940.4">36</text>
<text class="n" x="250.14" y="962.5">24</text>
<text class="n" x="405.06" y="903.99">4</text>
<text class="n" x="433.94" y="905.75">5</text>
<text class="n" x="394.52" y="918.56">&lt;1</text>
<text class="n" x="418.88" y="927.85">21</text>
<text class="n" x="383.97" y="944.92">5</text>
<text class="n" x="466.83" y="944.67">32</text>
<text class="n" x="415.11" y="965.01">33</text>
<text class="n" x="575.32" y="917.05">31</text>
<text class="n" x="594.91" y="937.39">5</text>
<text class="n" x="576.07" y="944.92">1</text>
<text class="n" x="585.62" y="945.93">2</text>
<text class="n" x="571.05" y="957.48">6</text>
<text class="n" x="587.88" y="959.23">5</text>
<text class="n" x="623.03" y="955.97">50</text>
<text class="t" x="0.3" y="25.1">Mental and behavioural disorders</text>
<text class="t" x="0.3" y="144.6">Neoplasms</text>
<text class="t" x="0.3" y="263.8">Diseases of the circulatory system</text>
<text class="t" x="0.3" y="382.6">Diseases of the digestive system</text>
<text class="t" x="343.9" y="382.6">Diseases of the ear and mastoid process</text>
<text class="t" x="0.3" y="501.8">Endocrine, nutritional and metabolic diseases</text>
<text class="t" x="343.9" y="501.8">Diseases of the eye and adnexa</text>
<text class="t" x="0.3" y="625.1">Diseases of the genitourinary system</text>
<text class="t" x="0.3" y="748.8">Diseases of the respiratory system</text>
<text class="t" x="0.3" y="872.6">Diseases of the musculoskeletal system</text>
<text class="t" x="343.9" y="872.6">Diseases of the nervous systems</text>
<text class="s" x="85.8" y="35.6">Depression (n=30770)</text>
<text class="s" x="257.6" y="35.6">Anxiety disorders (n=21770)</text>
<text class="s" x="429.6" y="35.6">Alcohol Problems (n=3636)</text>
<text class="s" x="601.4" y="35.6">Bipolar disorder and mania (n=1303)</text>
<text class="s" x="85.8" y="155.1">Solid organ malign. (n=11956)</text>
<text class="s" x="257.6" y="155.1">Non-melanoma skin malign. (n=5347)</text>
<text class="s" x="429.6" y="155.1">Haematological malign. (n=1324)</text>
<text class="s" x="601.4" y="155.1">Benign neopl. of brain &amp; CNS (n=698)</text>
<text class="s" x="85.8" y="274.3">Hypertension (n=52257)</text>
<text class="s" x="257.6" y="274.3">Coronary heart disease (n=12166)</text>
<text class="s" x="429.6" y="274.3">Stroke (n=3292)</text>
<text class="s" x="601.4" y="274.3">Atrial fibrillation (n=3220)</text>
<text class="s" x="85.8" y="393.1">GORD, gastritis and similar (n=26540)</text>
<text class="s" x="257.6" y="393.1">Peptic ulcer disease (n=5674)</text>
<text class="s" x="429.6" y="393.1">Hearing loss (n=6217)</text>
<text class="s" x="601.4" y="393.1">Meniere disease (n=1088)</text>
<text class="s" x="85.8" y="512.3">Hypo or hyperthyroidism (n=12011)</text>
<text class="s" x="257.6" y="512.3">Type 2 diabetes (n=7946)</text>
<text class="s" x="429.6" y="512.3">Glaucoma (n=3294)</text>
<text class="s" x="601.4" y="512.3">Visual impairment &amp; blindness (n=394)</text>
<text class="s" x="85.8" y="635.6">Erectile dysfunction (n=7920)</text>
<text class="s" x="257.6" y="635.6">Urinary Incontinence (n=7333)</text>
<text class="s" x="429.6" y="635.6">Hyperplasia of prostate (n=6413)</text>
<text class="s" x="601.4" y="635.6">Chronic renal disease (n=3670)</text>
<text class="s" x="85.8" y="759.3">Allergic and chronic rhinitis (n=47830)</text>
<text class="s" x="257.6" y="759.3">Asthma (n=23454)</text>
<text class="s" x="429.6" y="759.3">COPD (n=3217)</text>
<text class="s" x="601.4" y="759.3">Sleep apnoea (n=1779)</text>
<text class="s" x="85.8" y="883.1">Osteoarthritis (excl spine) (n=35417)</text>
<text class="s" x="257.6" y="883.1">Inflammatory arthritis (n=5688)</text>
<text class="s" x="429.6" y="883.1">Epilepsy (n=2294)</text>
<text class="s" x="601.4" y="883.1">Periph./auton. neuropathy (n=2294)</text>
<circle cx="214.2" cy="4.7" r="3.8" fill="#c2c2c2"/>
<text class="l" x="227.4" y="8.3">UKB records</text>
<circle cx="306.3" cy="4.7" r="3.8" fill="#c65a78"/>
<text class="l" x="318.9" y="8.3">GP records</text>
<circle cx="392.6" cy="4.7" r="3.8" fill="#afdae7"/>
<text class="l" x="405.7" y="8.3">Hospital records</text>
</g>
</svg>
</body></html>
